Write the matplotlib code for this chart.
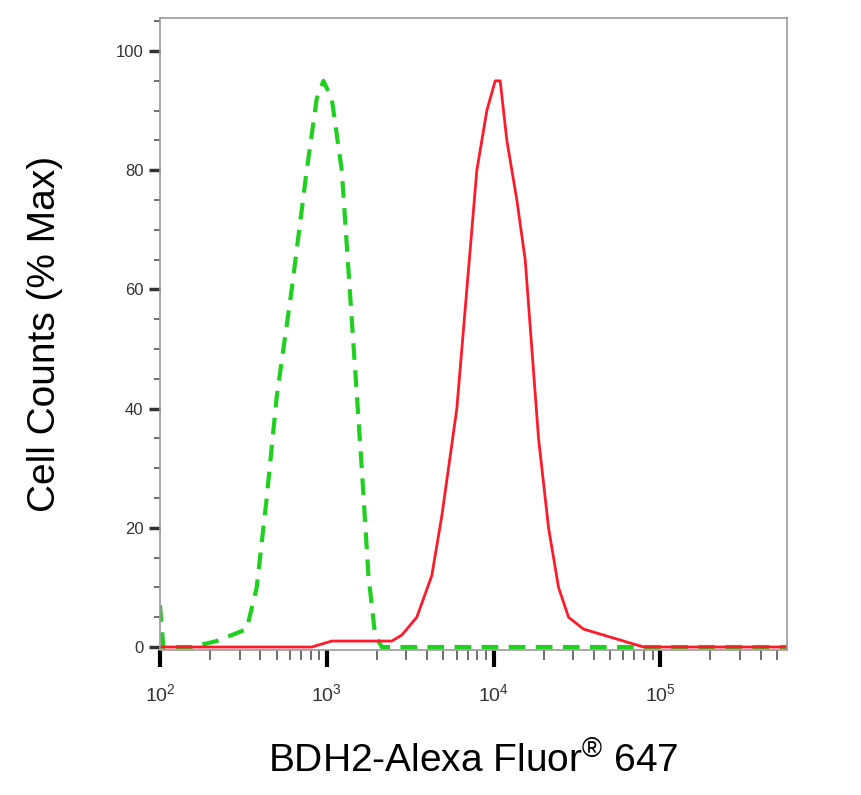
import numpy as np
import matplotlib
matplotlib.use("Agg")
import matplotlib.pyplot as plt
from matplotlib.ticker import LogLocator, MultipleLocator, FixedLocator

plt.rcParams['font.family'] = ['Liberation Sans', 'DejaVu Sans']

# log10 fluorescence positions and % max counts
green_logx = [2.00, 2.02, 2.19, 2.34, 2.43, 2.52, 2.58, 2.64, 2.70, 2.79, 2.88, 2.94, 2.98, 3.03, 3.09, 3.15, 3.21, 3.25, 3.29, 3.33, 5.76]
green_y = [7, 0, 0, 1, 2, 3, 10, 25, 42, 60, 80, 92, 95, 92, 80, 55, 30, 12, 2, 0, 0]
red_logx = [2.00, 2.91, 3.03, 3.39, 3.45, 3.54, 3.63, 3.69, 3.78, 3.84, 3.90, 3.96, 4.01, 4.04, 4.08, 4.14, 4.19, 4.27, 4.33, 4.39, 4.45, 4.54, 4.66, 4.78, 4.90, 5.76]
red_y = [0, 0, 1, 1, 2, 5, 12, 22, 40, 60, 80, 90, 95, 95, 85, 75, 65, 35, 20, 10, 5, 3, 2, 1, 0, 0]
yticks = [0, 20, 40, 60, 80, 100]

fig = plt.figure(figsize=(8.62, 7.95), dpi=100)
ax = fig.add_axes([0.1856, 0.1824, 0.7274, 0.7946])
ax.plot(10**np.array(green_logx), green_y, color="#1fd01f", lw=3, ls=(0, (4, 2.5)))
ax.plot(10**np.array(red_logx), red_y, color="#ff1a2a", lw=2)
ax.set_xscale("log")
ax.set_xlim(100, 10**5.76)
ax.set_ylim(-0.5, 105.5)
ax.set_yticks(yticks)
ax.yaxis.set_minor_locator(MultipleLocator(5))
ax.xaxis.set_major_locator(FixedLocator([1e2, 1e3, 1e4, 1e5]))
ax.xaxis.set_minor_locator(LogLocator(base=10, subs=np.arange(2, 10)))
ax.set_xticklabels([r"$\mathregular{10^2}$", r"$\mathregular{10^3}$", r"$\mathregular{10^4}$", r"$\mathregular{10^5}$"])
for s in ax.spines.values():
    s.set_color("#999999"); s.set_linewidth(1.2)
ax.tick_params(axis="y", which="major", length=8, width=2.5, color="#333333", labelsize=12, labelcolor="#333333", pad=4)
ax.tick_params(axis="y", which="minor", length=4, width=1.2, color="#555555")
ax.tick_params(axis="x", which="major", length=12, width=3, color="black", labelsize=14, labelcolor="#333333", pad=12)
ax.tick_params(axis="x", which="minor", length=7, width=1.2, color="#555555")
ax.set_ylabel("Cell Counts (% Max)", fontsize=28, labelpad=38)
ax.set_xlabel(r"BDH2-Alexa Fluor$^{\mathregular{®}}$ 647", fontsize=28, labelpad=26)
fig.savefig("out.png", dpi=100)
